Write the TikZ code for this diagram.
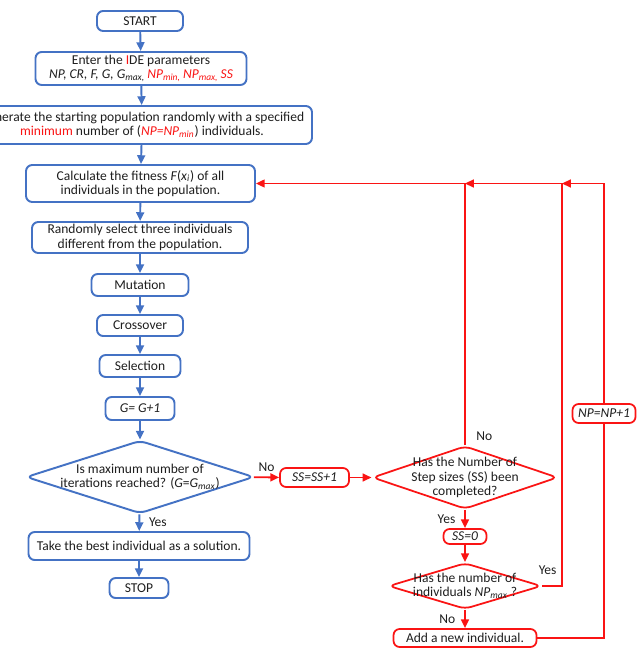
\documentclass[tikz,border=0pt]{standalone}
\usepackage{fontspec}
\setmainfont{Carlito}
\usepackage{xcolor}
\usepackage{tikz}
\usetikzlibrary{arrows.meta,shapes.geometric}

\definecolor{flowblue}{RGB}{68,114,196}
\definecolor{flowred}{RGB}{250,20,20}
\definecolor{txtgray}{RGB}{30,30,30}

\begin{document}
\begin{tikzpicture}[x=0.02cm,y=-0.02cm,
    font=\fontsize{7.7}{8.1}\selectfont, text=txtgray,
    box/.style={rounded corners=3.5pt,fill=white,align=center,inner sep=1pt},
    bluebox/.style={box,draw=flowblue,line width=1.1pt},
    redbox/.style={box,draw=flowred,line width=1pt},
    dia/.style={diamond,aspect=3,inner sep=-3pt,fill=white,align=center},
    lbl/.style={inner sep=5pt}]
				\useasboundingbox (0,0) rectangle (638,651);
				\clip (0,0) rectangle (638,651);

				% main column
				\begin{scope}[every node/.style={bluebox}]
				    \node[minimum width=1.72cm,minimum height=0.40cm] (start) at (140,21) {START};
				    \node[minimum width=4.22cm,minimum height=0.66cm] (param) at (141,68.5) {Enter the \textcolor{flowred}{I}DE parameters\\\textit{NP, CR, F, G, G\textsubscript{max,}\,\textcolor{flowred}{NP\textsubscript{min,}\,NP\textsubscript{max,}\,SS}}};
				    \node[minimum width=6.80cm,minimum height=0.76cm] (gen) at (142,125) {Generate the starting population randomly with a specified\\\textcolor{flowred}{minimum} number of (\textit{\textcolor{flowred}{NP=NP\textsubscript{min}}}) individuals.};
				    \node[minimum width=4.58cm,minimum height=0.74cm] (fit) at (140.5,183.5) {Calculate the fitness \textit{F}(\textit{x\textsubscript{i}}) of all\\individuals in the population.};
				    \node[minimum width=4.32cm,minimum height=0.62cm] (rand) at (140,237.5) {Randomly select three individuals\\different from the population.};
				    \node[minimum width=1.94cm,minimum height=0.44cm] (mut) at (140,285) {Mutation};
				    \node[minimum width=1.72cm,minimum height=0.42cm] (cross) at (140,325.5) {Crossover};
				    \node[minimum width=1.62cm,minimum height=0.44cm] (sel) at (140,366) {Selection};
				    \node[minimum width=1.38cm,minimum height=0.46cm] (incg) at (140,408.5) {\textit{G= G+1}};
				    \node[dia,minimum width=4.56cm,minimum height=1.46cm] (maxit) at (140,477) {Is maximum number of\\iterations reached? (\textit{G}=\textit{G\textsubscript{max}})};
				    \node[minimum width=4.42cm,minimum height=0.56cm] (best) at (139,546) {Take the best individual as a solution.};
				    \node[minimum width=1.18cm,minimum height=0.40cm] (stop) at (139,588) {STOP};
				\end{scope}

				% step size / population size loop
				\begin{scope}[every node/.style={redbox}]
				    \node[minimum width=1.38cm,minimum height=0.38cm] (incss) at (314.5,477.5) {\textit{SS=SS+1}};
				    \node[dia,minimum width=3.66cm,minimum height=1.26cm] (ssdone) at (465,477.5) {Has the Number of\\Step sizes (SS) been\\completed?};
				    \node[minimum width=0.86cm,minimum height=0.30cm] (resetss) at (465,536.5) {\textit{SS=0}};
				    \node[dia,minimum width=3.06cm,minimum height=0.92cm] (npmax) at (465,586) {Has the number of\\individuals \textit{NP\textsubscript{max}} ?};
				    \node[minimum width=2.86cm,minimum height=0.36cm] (addind) at (465,638) {Add a new individual.};
				    \node[minimum width=1.26cm,minimum height=0.38cm] (incnp) at (604,413.5) {\textit{NP=NP+1}};
				\end{scope}
				\coordinate (jssa) at (ssdone.north |- fit.east);
				\coordinate (jnpa) at (562,183.5);

				\begin{scope}[>={Triangle[length=5pt,width=4.5pt]},
				              every node/.style={lbl},
				              every edge/.style={draw=flowblue,line width=1.1pt}]
				    \path [->] (start) edge (param);
				    \path [->] (param) edge (gen);
				    \path [->] (gen) edge (fit);
				    \path [->] (fit) edge (rand);
				    \path [->] (rand) edge (mut);
				    \path [->] (mut) edge (cross);
				    \path [->] (cross) edge (sel);
				    \path [->] (sel) edge (incg);
				    \path [->] (incg) edge (maxit);
				    \path [->] (maxit) edge node[right] {Yes} (best);
				    \path [->] (best) edge (stop);
				\end{scope}

				\begin{scope}[>={Triangle[length=5pt,width=4.5pt]},
				              every node/.style={lbl},
				              every edge/.style={draw=flowred,line width=1pt},
				              draw=flowred,line width=1pt]
				    \path [->] (maxit) edge node[above,inner sep=3pt] {No} (incss);
				    \path [->] (incss) edge (ssdone);
				    \path [->] (ssdone) edge node[left] {Yes} (resetss);
				    \path [->] (resetss) edge (npmax);
				    \path [->] (npmax) edge node[left] {No} (addind);
				    \draw [->] (ssdone.north) node[above right,inner sep=2pt,xshift=4pt] {No} |- (fit.east);
				    \draw [->] (npmax.east) node[above,inner sep=2pt,xshift=3pt,yshift=4pt] {Yes} -| (jnpa) -- (jssa);
				    \draw (addind.east) -| (incnp.south);
				    \draw [->] (incnp.north) |- (jnpa);
				\end{scope}
\end{tikzpicture}
\end{document}
